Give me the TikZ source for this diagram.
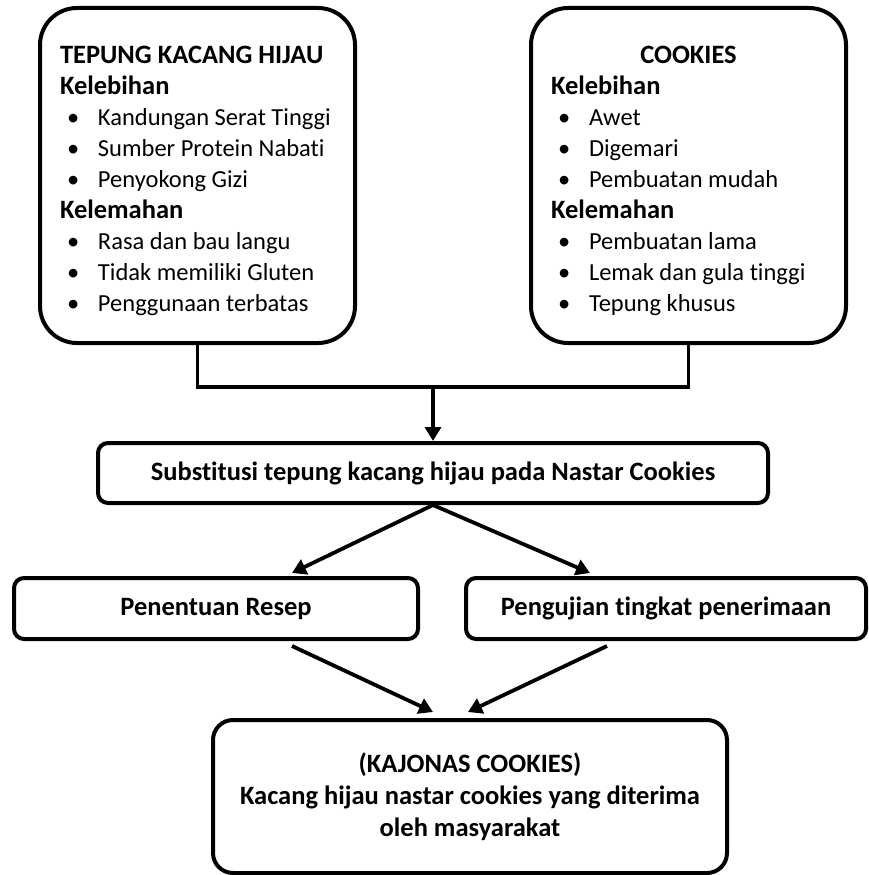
\documentclass[tikz,border=0pt]{standalone}
\usepackage{fontspec}
\setmainfont{Carlito}[Ligatures=NoCommon]
\usetikzlibrary{arrows.meta,positioning}

\newcommand{\butir}[1]{\hspace*{7pt}\makebox[31pt][l]{\textbullet}#1}
\newcommand{\judul}[1]{{\fontsize{26.5}{31}\selectfont\bfseries #1}}
\newcommand{\spasi}{\spaceskip=0pt\xspaceskip=0pt\relax}

\begin{document}
\begin{tikzpicture}[x=1pt,y=-1pt,
    font=\fontsize{24.5}{31}\selectfont,
    box/.style={draw,line width=4pt,rounded corners=10pt,font=\fontsize{26.5}{32}\selectfont\bfseries},
    bigbox/.style={draw,line width=4pt,rounded corners=37pt,minimum width=315pt,
      minimum height=335pt,text width=275pt,inner xsep=20pt,align=left},
    line/.style={line width=3.8pt},
    arr/.style={line width=3.8pt,-{Triangle[length=14pt,width=16pt]}}]
    \useasboundingbox (0,0) rectangle (869,875);
    % top boxes
    \node[bigbox] (tepung) at (197.5,175.5) {\spasi\rule{0pt}{29pt}\judul{TEPUNG KACANG HIJAU}\\
      \judul{Kelebihan}\\
      \butir{Kandungan Serat Tinggi}\\
      \butir{Sumber Protein Nabati}\\
      \butir{Penyokong Gizi}\\
      \judul{Kelemahan}\\
      \butir{Rasa dan bau langu}\\
      \butir{Tidak memiliki Gluten}\\
      \butir{Penggunaan terbatas}};
    \node[bigbox] (cookies) at (688.5,175.5) {\spasi\rule{0pt}{29pt}\makebox[\linewidth]{\judul{COOKIES}}\\
      \judul{Kelebihan}\\
      \butir{Awet}\\
      \butir{Digemari}\\
      \butir{Pembuatan mudah}\\
      \judul{Kelemahan}\\
      \butir{Pembuatan lama}\\
      \butir{Lemak dan gula tinggi}\\
      \butir{Tepung khusus}};
    % middle and bottom boxes
    \node[box,minimum width=670pt,minimum height=60pt] (subst) at (433,473)
      {Substitusi tepung kacang hijau pada Nastar Cookies};
    \node[box,minimum width=404pt,minimum height=61pt] (resep) at (216,608.5)
      {Penentuan Resep};
    \node[box,minimum width=400pt,minimum height=61pt] (uji) at (666,608.5)
      {Pengujian tingkat penerimaan};
    \node[box,rounded corners=20pt,minimum width=514pt,minimum height=153pt,align=center]
      (kajonas) at (470,796.5)
      {\spasi(KAJONAS COOKIES)\\ Kacang hijau nastar cookies yang diterima\\ oleh masyarakat};
    % free ends
    \coordinate (join) at (433,387);
    \coordinate (resep in) at (292,573);
    \coordinate (uji in) at (590,573);
    \coordinate (resep out) at (292,646);
    \coordinate (uji out) at (607,646);
    \coordinate (kajonas l) at (433,712);
    \coordinate (kajonas r) at (468,712);
    % joining line
    \draw[line] (tepung.south) |- (join) -| (cookies.south);
    \path[arr]
    (join) edge (subst)
    % split edges
    (subst.south) edge (resep in)
    (subst.south) edge (uji in)
    % final edges
    (resep out) edge (kajonas l)
    (uji out) edge (kajonas r);
\end{tikzpicture}
\end{document}
